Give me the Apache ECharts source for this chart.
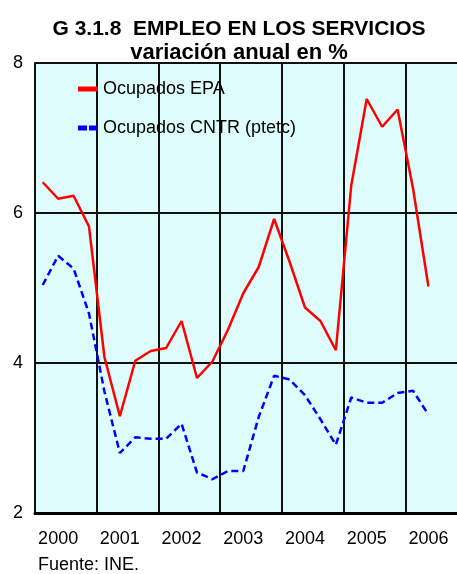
<!DOCTYPE html>
<html>
<head>
<meta charset="utf-8">
<script src="https://cdn.jsdelivr.net/npm/echarts@6/dist/echarts.min.js"></script>
<style>
	html, body { margin: 0; padding: 0; background: #fff; overflow: hidden; }
	#chart { width: 480px; height: 574px; }
</style>
</head>
<body>
<div id="chart"></div>
<script type="text/javascript">
// trimestres 2000-I .. 2006-IV
var years = ['2000', '2001', '2002', '2003', '2004', '2005', '2006'];
var quarters = [];
years.forEach(function (y) {
	quarters.push(y + '-I', y + '-II', y + '-III', y + '-IV');
});

var epa = [6.41, 6.19, 6.23, 5.82, 4.08, 3.29, 4.03, 4.16,
	4.20, 4.56, 3.80, 4.02, 4.44, 4.93, 5.28, 5.92,
	5.35, 4.74, 4.56, 4.17, 6.37, 7.52, 7.15, 7.38,
	6.33, 5.02];
var cntr = [5.04, 5.43, 5.26, 4.66, 3.62, 2.80, 3.01, 2.99,
	2.99, 3.19, 2.54, 2.45, 2.56, 2.56, 3.28, 3.83,
	3.78, 3.57, 3.25, 2.91, 3.54, 3.47, 3.47, 3.60,
	3.63, 3.31];
var yTicks = [2, 4, 6, 8];

var font = 'Liberation Sans, Arial, sans-serif';

var option = {
	animation: false,
	title: [{
		text: 'G 3.1.8  EMPLEO EN LOS SERVICIOS',
		left: 234,
		top: 14,
		textAlign: 'center',
		textStyle: { fontFamily: font, fontSize: 21, fontWeight: 'bold', color: '#000' }
	}, {
		text: 'variación anual en %',
		left: 234,
		top: 37,
		textAlign: 'center',
		textStyle: { fontFamily: font, fontSize: 22, fontWeight: 'bold', color: '#000' }
	}, {
		text: 'Fuente: INE.',
		left: 33,
		top: 551,
		textStyle: { fontFamily: font, fontSize: 18, fontWeight: 'normal', color: '#000' }
	}],
	legend: {
		orient: 'vertical',
		left: 73,
		top: 75,
		itemGap: 21,
		itemWidth: 20,
		itemHeight: 5,
		textStyle: { fontFamily: font, fontSize: 18, color: '#000' },
		data: [
			{ name: 'Ocupados EPA', icon: 'rect' },
			{ name: 'Ocupados CNTR (ptetc)', icon: 'path://M0,0h9v5h-9z M11,0h9v5h-9z' }
		]
	},
	grid: {
		left: 35,
		top: 63,
		width: 432,
		height: 450,
		show: true,
		backgroundColor: '#dffcfc',
		borderWidth: 0
	},
	xAxis: {
		type: 'category',
		boundaryGap: true,
		data: quarters,
		axisLine: { lineStyle: { color: '#000', width: 3 } },
		axisTick: { show: false },
		axisLabel: {
			interval: 0,
			margin: 17,
			fontFamily: font,
			fontSize: 18,
			color: '#000',
			formatter: function (v, i) { return i % 4 === 1 ? years[Math.floor(i / 4)] : ''; }
		},
		splitLine: {
			show: true,
			interval: function (i) { return i % 4 === 0; },
			lineStyle: { color: '#111', width: 2 }
		}
	},
	yAxis: {
		type: 'value',
		min: yTicks[0],
		max: yTicks[yTicks.length - 1],
		interval: 2,
		axisLine: { show: true, lineStyle: { color: '#111', width: 2 } },
		axisTick: { show: false },
		axisLabel: { margin: 12, padding: [5, 0, 0, 0], fontFamily: font, fontSize: 18, color: '#000' },
		splitLine: { lineStyle: { color: '#111', width: 2 } }
	},
	series: [{
		name: 'Ocupados EPA',
		type: 'line',
		data: epa,
		symbol: 'none',
		itemStyle: { color: '#ff0000' },
		lineStyle: { color: '#ff0000', width: 2.5 },
		z: 3
	}, {
		name: 'Ocupados CNTR (ptetc)',
		type: 'line',
		data: cntr,
		symbol: 'none',
		itemStyle: { color: '#0000ff' },
		lineStyle: { color: '#0000ff', width: 2.5, type: [7, 4] },
		z: 4
	}]
};

var myChart = echarts.init(document.getElementById('chart'));
myChart.setOption(option);
</script>
</body>
</html>
